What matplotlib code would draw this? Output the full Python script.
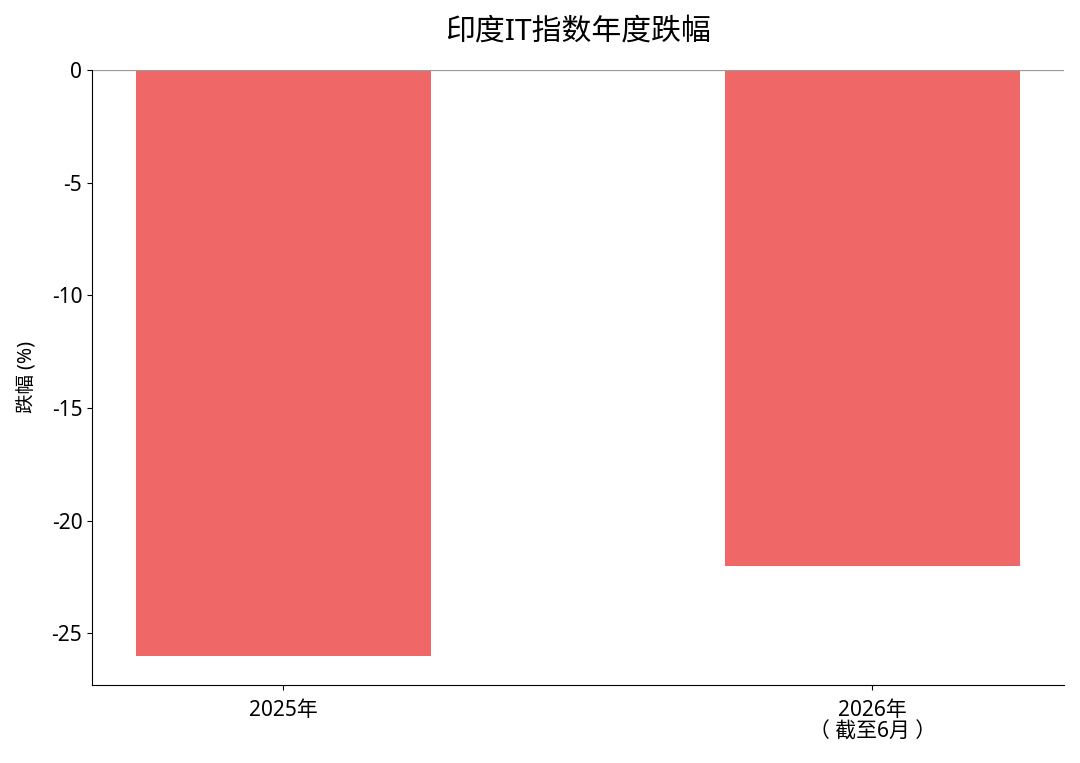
import matplotlib
matplotlib.use('Agg')
import matplotlib.pyplot as plt

plt.rcParams['font.family'] = ['Noto Sans', 'Noto Sans CJK SC', 'DejaVu Sans']
plt.rcParams['axes.unicode_minus'] = False

categories = ['2025年', '2026年\n（ 截至6月 ）']
declines = [-26, -22]
bar_color = '#EF6767'

fig = plt.figure(figsize=(10.8, 7.63), dpi=100)
ax = fig.add_axes([0.0852, 0.1022, 0.8998, 0.8061])

x = list(range(len(categories)))
ax.bar(x, declines, width=0.5, color=bar_color)
ax.axhline(0, color='#999999', lw=0.9)

ax.set_xticks(x)
ax.set_xticklabels(categories, fontsize=15, linespacing=1.05)
ax.set_ylim(-27.3, 0)
ax.set_yticks([0, -5, -10, -15, -20, -25])
ax.tick_params(axis='y', labelsize=15)
ax.tick_params(axis='x', labelsize=15, pad=7)
ax.set_ylabel('跌幅 (%)', fontsize=14, labelpad=10)
ax.spines['top'].set_visible(False)
ax.spines['right'].set_visible(False)
ax.set_title('印度IT指数年度跌幅', fontsize=21.5, pad=22)

fig.savefig('out.png', dpi=100)
